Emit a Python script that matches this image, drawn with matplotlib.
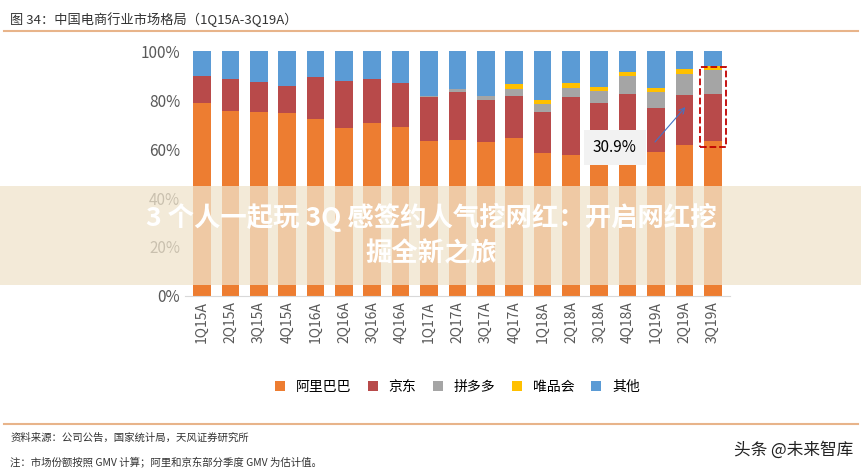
import numpy as np
import matplotlib.pyplot as plt
from matplotlib.patches import Rectangle

plt.rcParams['font.family'] = ['Noto Sans CJK SC', 'DejaVu Sans']

quarters = ['1Q15A', '2Q15A', '3Q15A', '4Q15A', '1Q16A', '2Q16A', '3Q16A', '4Q16A',
            '1Q17A', '2Q17A', '3Q17A', '4Q17A', '1Q18A', '2Q18A', '3Q18A', '4Q18A',
            '1Q19A', '2Q19A', '3Q19A']
alibaba = [78.6, 75.6, 75.1, 74.7, 72.2, 68.7, 70.5, 68.8, 63.3, 63.7, 63.0, 64.4,
           58.2, 57.5, 56.5, 55.5, 58.6, 61.5, 63.4]
jd = [11.3, 12.8, 12.1, 10.9, 17.1, 18.9, 17.9, 18.0, 17.8, 19.4, 16.9, 17.2,
      16.8, 23.9, 22.1, 26.8, 18.0, 20.4, 18.9]
pdd = [0, 0, 0, 0, 0, 0, 0, 0, 0.5, 1.5, 1.9, 3.0, 3.5, 3.6, 5.1, 7.6, 6.5, 8.8, 9.9]
vip = [0, 0, 0, 0, 0, 0, 0, 0, 0, 0, 0, 2.1, 1.5, 1.9, 1.5, 1.6, 1.9, 1.9, 1.6]
others = [100 - a - b - c - d for a, b, c, d in zip(alibaba, jd, pdd, vip)]

series = [('阿里巴巴', alibaba, '#ed7d31'), ('京东', jd, '#b84a4a'),
          ('拼多多', pdd, '#a5a5a5'), ('唯品会', vip, '#ffc000'),
          ('其他', others, '#5b9bd5')]

fig = plt.figure(figsize=(8.62, 4.71), dpi=100)
ax = fig.add_axes([0.2146, 0.3716, 0.632, 0.52])
x = np.arange(len(quarters))
bottom = np.zeros(len(quarters))
for name, vals, color in series:
    ax.bar(x, vals, 0.62, bottom=bottom, color=color, label=name)
    bottom += np.array(vals)

ax.set_ylim(0, 100)
ax.set_xlim(-0.6, len(quarters) - 0.4)
ax.set_yticks(range(0, 101, 20))
ax.set_yticklabels([f'{v}%' for v in range(0, 101, 20)], fontsize=11, color='#595959')
ax.set_xticks(x)
ax.set_xticklabels(quarters, rotation=90, fontsize=10, color='#595959')
for s in ['top', 'right', 'left']:
    ax.spines[s].set_visible(False)
ax.spines['bottom'].set_color('#d9d9d9')
ax.tick_params(length=0)

# dashed highlight on last bar and callout
ax.add_patch(Rectangle((17.55, 61), 0.9, 32.5, fill=False, ls='--', lw=1.3,
                       ec='#c00000', clip_on=False))
ax.annotate('', xy=(17.1, 78), xytext=(15.9, 62),
            arrowprops=dict(arrowstyle='->', color='#4472c4', lw=0.8))
ax.text(14.55, 60.5, '30.9%', fontsize=11, ha='center', va='center',
        bbox=dict(boxstyle='square,pad=0.6', fc='#f2f2f2', ec='none'))

ax.legend(loc='upper center', bbox_to_anchor=(0.5, -0.29), ncol=5, frameon=False,
          fontsize=10, handlelength=0.7, handleheight=0.7, columnspacing=1.2)

# header and footer
fig.text(0.012, 0.975, '图 34：中国电商行业市场格局（1Q15A-3Q19A）', fontsize=9.5,
         va='top', color='#333333')
fig.add_artist(plt.Line2D([0.005, 0.995], [0.935, 0.935], color='#e8b48a', lw=1.5))
fig.add_artist(plt.Line2D([0.005, 0.995], [0.1, 0.1], color='#e8b48a', lw=1.5))
fig.text(0.012, 0.07, '资料来源：公司公告，国家统计局，天风证券研究所', fontsize=7.5,
         va='center', color='#333333')
fig.text(0.012, 0.018, '注：市场份额按照 GMV 计算；阿里和京东部分季度 GMV 为估计值。',
         fontsize=7.5, va='center', color='#333333')
fig.text(0.99, 0.045, '头条 @未来智库', fontsize=12, ha='right', va='center', color='#222222')

# overlay banner
fig.add_artist(Rectangle((0, 0.395), 1, 0.21, transform=fig.transFigure,
                         fc='#f0e4cc', alpha=0.75, ec='none'))
fig.text(0.5, 0.5, '3 个人一起玩 3Q 感签约人气挖网红：开启网红挖\n掘全新之旅',
         fontsize=19, fontweight='bold', color='white', ha='center', va='center',
         linespacing=1.4)

fig.savefig('out.png', dpi=100)
